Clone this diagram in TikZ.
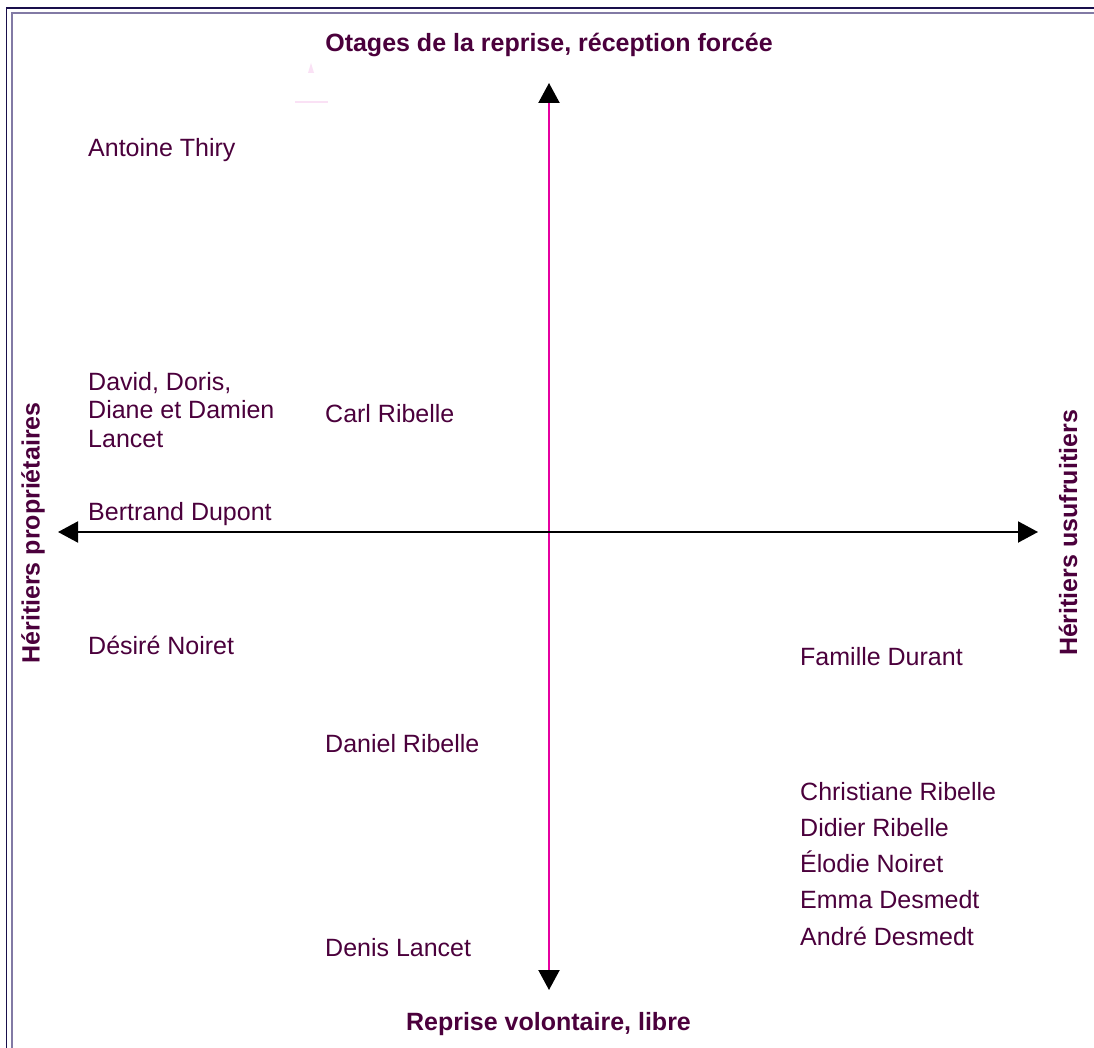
\documentclass[tikz,border=0pt]{standalone}
\usepackage{fontspec}
\setmainfont{Liberation Sans}
\usetikzlibrary{arrows.meta}
\definecolor{txt}{RGB}{75,0,60}
\definecolor{mag}{RGB}{230,0,160}
\definecolor{frameout}{RGB}{25,15,75}
\definecolor{framein}{RGB}{130,122,165}
\definecolor{faint}{RGB}{250,225,245}
\begin{document}
\begin{tikzpicture}[x=1pt,y=-1pt,
  lbl/.style={font=\fontsize{25}{28.5}\selectfont, text=txt, inner sep=0pt, anchor=base west},
  ttl/.style={font=\fontsize{25}{28.5}\selectfont\bfseries, text=txt, inner sep=0pt},
  tipA/.tip={Triangle[width=21pt,length=20pt,color=black,fill=black]}]
\useasboundingbox[fill=white] (0,0) rectangle (1094,1048);
% frame
\draw[frameout, line width=1.6pt] (6.5,1048) -- (6.5,8) -- (1094,8);
\draw[framein, line width=2pt] (12,1048) -- (12,13) -- (1094,13);
% faint artifact
\fill[faint] (308,73) -- (311,63) -- (314,73) -- cycle;
\draw[faint, line width=2pt] (295,102) -- (328,102);
% axes
\coordinate (top) at (549,83);
\coordinate (bot) at (549,990);
\coordinate (lft) at (58,532);
\coordinate (rgt) at (1038,532);
\draw[mag, line width=2.2pt, tipA-tipA] (bot) -- (top);
\draw[black, line width=2pt, tipA-tipA] (lft) -- (rgt);
% axis titles
\node[ttl, anchor=base] (ttop) at (549,52) {Otages de la reprise, réception forcée};
\node[ttl, anchor=base] (tbot) at (548.5,1030) {Reprise volontaire, libre};
\node[ttl, rotate=90] (tlft) at (33,533) {Héritiers propriétaires};
\node[ttl, rotate=90] (trgt) at (1068,533) {Héritiers usufruitiers};
% names
\node[lbl] (thiry) at (88,157) {Antoine Thiry};
\node[lbl] (lancet) at (88,390) {\begin{tabular}[t]{@{}l@{}}David, Doris,\\Diane et Damien\\Lancet\end{tabular}};
\node[lbl] (carl) at (325,422) {Carl Ribelle};
\node[lbl] (dupont) at (88,520) {Bertrand Dupont};
\node[lbl] (desire) at (88,654) {Désiré Noiret};
\node[lbl] (durant) at (800,665) {Famille Durant};
\node[lbl] (daniel) at (325,752) {Daniel Ribelle};
\node[lbl] (denis) at (325,956) {Denis Lancet};
\node[lbl, font=\fontsize{25}{36.25}\selectfont] (liste) at (800,800) {\begin{tabular}[t]{@{}l@{}}Christiane Ribelle\\Didier Ribelle\\Élodie Noiret\\Emma Desmedt\\André Desmedt\end{tabular}};
\end{tikzpicture}
\end{document}
